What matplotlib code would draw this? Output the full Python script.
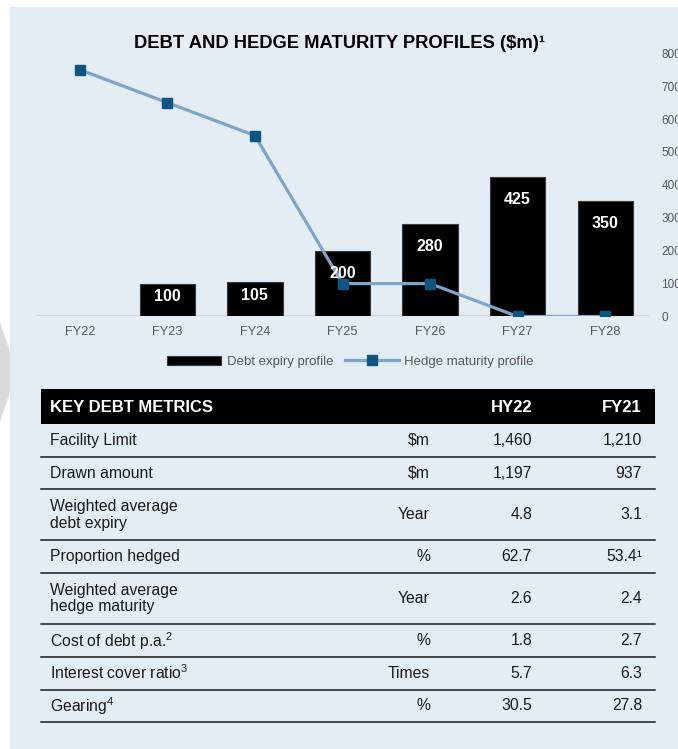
import matplotlib
matplotlib.use("Agg")
import matplotlib.pyplot as plt
from matplotlib.patches import Rectangle, Polygon, Patch
from matplotlib.lines import Line2D
import numpy as np

plt.rcParams['font.family'] = ['Liberation Sans', 'DejaVu Sans']
plt.rcParams['mathtext.fontset'] = 'custom'
plt.rcParams['mathtext.rm'] = 'Liberation Sans'
plt.rcParams['mathtext.it'] = 'Liberation Sans:italic'
plt.rcParams['mathtext.bf'] = 'Liberation Sans:bold'

# ---- data ----
years = ["FY22", "FY23", "FY24", "FY25", "FY26", "FY27", "FY28"]
debt_expiry = [0, 100, 105, 200, 280, 425, 350]
hedge_maturity = [750, 650, 550, 100, 100, 0, 0]
y_ticks = [0, 100, 200, 300, 400, 500, 600, 700, 800]

table_header = ["KEY DEBT METRICS", "HY22", "FY21"]
row_labels = ["Facility Limit", "Drawn amount", "Weighted average\ndebt expiry",
              "Proportion hedged", "Weighted average\nhedge maturity",
              "Cost of debt p.a.$^{2}$", "Interest cover ratio$^{3}$", "Gearing$^{4}$"]
row_units = ["$m", "$m", "Year", "%", "Year", "%", "Times", "%"]
hy22_vals = ["1,460", "1,197", "4.8", "62.7", "2.6", "1.8", "5.7", "30.5"]
fy21_vals = ["1,210", "937", "3.1", "53.4¹", "2.4", "2.7", "6.3", "27.8"]

# ---- figure ----
W, H = 678, 749
fig = plt.figure(figsize=(W / 100, H / 100), dpi=100)
fig.patch.set_facecolor("white")

PANEL = "#e4ecf4"
HILITE = "#d5e3ee"
GRAY = "#595959"
TXT = "#1a1a1a"

bg = fig.add_axes([0, 0, 1, 1], zorder=-10)
bg.set_xlim(0, W)
bg.set_ylim(H, 0)
bg.axis("off")
bg.add_patch(Rectangle((10, 7), W - 10, H - 7, facecolor=PANEL, edgecolor="none"))
bg.add_patch(Polygon([(0, 322), (10, 352), (10, 392), (0, 422)], closed=True,
                     facecolor="#dadada", edgecolor="none"))

# ---- chart ----
y0_px, y800_px = 316.5, 53.3
ax_left, ax_right = 36, 649
ax = fig.add_axes([ax_left / W, 1 - y0_px / H, (ax_right - ax_left) / W, (y0_px - y800_px) / H])
ax.set_facecolor("none")
x = np.arange(len(years))
dvals = np.array(debt_expiry, dtype=float)
mask = dvals > 0
ax.bar(x[mask], dvals[mask], width=0.63, color="black", edgecolor="#3a3a3a",
       linewidth=0.8, zorder=2)
ax.axhline(0, color="#d6d6d6", lw=1.6, zorder=1)
ax.plot(x, hedge_maturity, color="#7ea4c8", lw=2.3, marker="s", ms=7.7,
        mfc="#0f5582", mec="#0f5582", zorder=3, solid_capstyle="butt")
for xi, v in zip(x, dvals):
    if v > 0:
        ax.text(xi, max(v - 68, v * 0.62), f"{int(v)}", ha="center", va="center",
                color="white", fontsize=11.5, fontweight="bold", zorder=5)

ax.set_xlim(-0.5, len(years) - 0.5)
ax.set_ylim(0, 800)
ax.set_xticks(x)
ax.set_xticklabels(years)
ax.set_yticks(y_ticks)
ax.set_yticklabels([str(t) for t in y_ticks])
ax.yaxis.tick_right()
ax.tick_params(axis="x", length=0, pad=7, labelsize=9.2, labelcolor=GRAY)
ax.tick_params(axis="y", length=0, pad=9, labelsize=8.5, labelcolor=GRAY)
for s in ax.spines.values():
    s.set_visible(False)

fig.text(340 / W, 1 - 43 / H, "DEBT AND HEDGE MATURITY PROFILES ($m)¹", ha="center",
         va="center", fontsize=13.2, fontweight="bold", color="black")

handles = [Patch(facecolor="black", edgecolor="#3a3a3a", lw=0.8),
           Line2D([0], [0], color="#7ea4c8", lw=2.3, marker="s", ms=7.7,
                  mfc="#0f5582", mec="#0f5582")]
leg = ax.legend(handles, ["Debt expiry profile", "Hedge maturity profile"], ncol=2,
                loc="center", bbox_to_anchor=(350.5 / W, 1 - 361.7 / H),
                bbox_transform=fig.transFigure, frameon=False, fontsize=9.5,
                handlelength=4.1, handletextpad=0.4, columnspacing=0.9,
                borderpad=0, labelcolor=GRAY)

# ---- table ----
tx0, tx1 = 41, 655
hdr_top, hdr_bot = 389, 424
x_label, x_unit, x_hy, x_fy = 50, 430, 532, 642
bg.add_patch(Rectangle((tx0, hdr_top), tx1 - tx0, hdr_bot - hdr_top,
                       facecolor="black", edgecolor="none"))
hy_mid = (hdr_top + hdr_bot) / 2 + 1
bg.text(x_label, hy_mid, table_header[0], ha="left", va="center", color="white",
        fontsize=12, fontweight="bold")
bg.text(x_hy, hy_mid, table_header[1], ha="right", va="center", color="white",
        fontsize=12, fontweight="bold")
bg.text(x_fy, hy_mid, table_header[2], ha="right", va="center", color="white",
        fontsize=12, fontweight="bold")

heights = [51.0 if "\n" in lab else 32.7 for lab in row_labels]
table_bottom = hdr_bot + sum(heights)
bg.add_patch(Rectangle((442, hdr_bot), 546 - 442, table_bottom - hdr_bot,
                       facecolor=HILITE, edgecolor="none", zorder=0))
y = hdr_bot
for lab, unit, hv, fv, h in zip(row_labels, row_units, hy22_vals, fy21_vals, heights):
    mid = y + h / 2
    va = "center_baseline" if "$^" in lab else "center"
    off = -1.8 if "$^" in lab else 0
    bg.text(x_label, mid + off, lab, ha="left", va=va, color=TXT, fontsize=11.3,
            linespacing=1.12, zorder=3)
    bg.text(x_unit, mid, unit, ha="right", va="center", color=TXT, fontsize=11.3,
            zorder=3, parse_math=False)
    bg.text(x_hy, mid, hv, ha="right", va="center", color=TXT, fontsize=11.3, zorder=3)
    bg.text(x_fy, mid, fv, ha="right", va="center", color=TXT, fontsize=11.3, zorder=3)
    y += h
    bg.plot([tx0, tx1], [y, y], color="#1a1a1a", lw=1.1, zorder=4)

fig.savefig("out.png", dpi=100, facecolor=fig.get_facecolor())
